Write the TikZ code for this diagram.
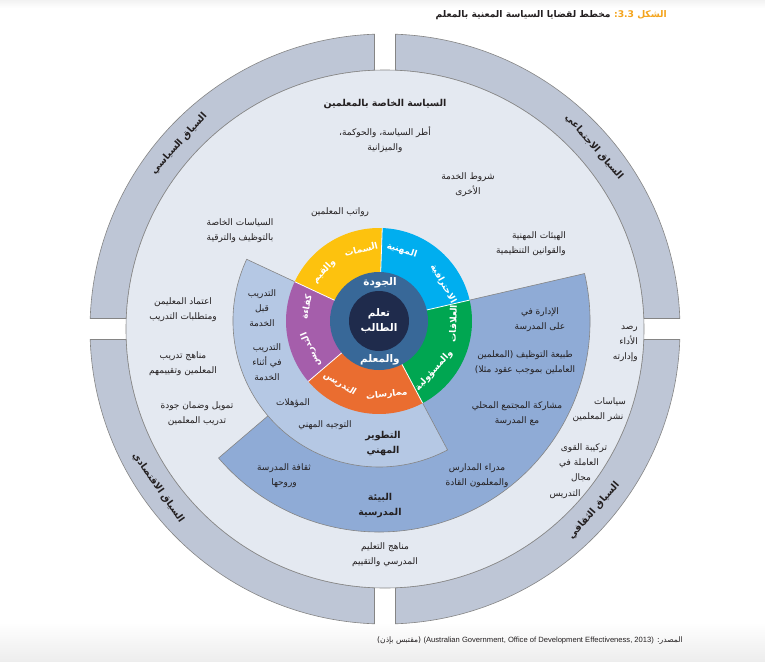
\documentclass[tikz,border=0pt]{standalone}
\usepackage{fontspec}
\setmainfont{DejaVu Sans}
\newfontfamily\ar[Script=Arabic]{DejaVu Sans}
\newfontfamily\lat{Liberation Sans}
\usetikzlibrary{calc}
\TeXXeTstate=1
\newcommand{\AR}[1]{{\ar\beginR #1\endR}}
\definecolor{ringc}{HTML}{BEC6D6}
\definecolor{innerbg}{HTML}{E4E9F1}
\definecolor{dblue}{HTML}{8FABD6}
\definecolor{lblue}{HTML}{B5C8E4}
\definecolor{cyellow}{HTML}{FDC20E}
\definecolor{ccyan}{HTML}{00AEEF}
\definecolor{cgreen}{HTML}{00A651}
\definecolor{corange}{HTML}{EA6D30}
\definecolor{cpurple}{HTML}{A55EAB}
\definecolor{cmid}{HTML}{386898}
\definecolor{cnavy}{HTML}{1F2B4C}
\definecolor{edgec}{HTML}{858585}
\definecolor{titleor}{HTML}{F4A41C}
\definecolor{txtc}{HTML}{231F20}
\tikzset{
  ringpart/.style={fill=ringc,draw=edgec,line width=0.6pt},
  sectorpart/.style={draw=edgec,line width=0.6pt},
  bodytxt/.style={text=txtc,align=center,font=\fontsize{9}{15}\selectfont,inner sep=0pt},
  boldtxt/.style={text=txtc,align=center,font=\fontsize{9.5}{15}\selectfont\bfseries,inner sep=0pt},
  wl/.style={text=white,font=\fontsize{9}{10}\selectfont\bfseries,inner sep=0pt},
  ctx/.style={text=txtc,font=\fontsize{9.5}{10}\selectfont\bfseries,inner sep=0pt},
  ctr/.style={text=white,align=center,font=\fontsize{10.5}{15}\selectfont\bfseries,inner sep=0pt}
}
\begin{document}
\begin{tikzpicture}[x=1pt,y=1pt]
\useasboundingbox (0,0) rectangle (765,-661);
\fill[white] (0,0) rectangle (765,-661);
\shade[top color=gray!10,bottom color=white] (0,0) rectangle (765,-8);
\shade[top color=white,bottom color=gray!14] (0,-622) rectangle (765,-661);
\coordinate (O) at (385,-329);
\coordinate (W) at (379,-321);
% outer context ring
\foreach \q in {0,90,180,270}{
  \draw[ringpart] ($(O)+(\q+87.96:295)$) arc[start angle=\q+87.96,end angle=\q+2.04,radius=295]
    -- ($(O)+(\q+2.32:259)$) arc[start angle=\q+2.32,end angle=\q+87.68,radius=259] -- cycle;
}
\draw[fill=innerbg,draw=edgec,line width=0.6pt] (O) circle[radius=259];
% sectors
\draw[sectorpart,fill=dblue] (W) -- ($(W)+(13:211)$) arc[start angle=13,end angle=-139.5,radius=211] -- cycle;
\draw[sectorpart,fill=lblue] (W) -- ($(W)+(155:146)$) arc[start angle=155,end angle=298,radius=146] -- cycle;
% wheel
\fill[cyellow] (W) -- ($(W)+(88:93)$) arc[start angle=88,end angle=155,radius=93] -- cycle;
\fill[ccyan] (W) -- ($(W)+(13:93)$) arc[start angle=13,end angle=88,radius=93] -- cycle;
\fill[cgreen] (W) -- ($(W)+(-62:93)$) arc[start angle=-62,end angle=13,radius=93] -- cycle;
\fill[corange] (W) -- ($(W)+(-139.5:93)$) arc[start angle=-139.5,end angle=-62,radius=93] -- cycle;
\fill[cpurple] (W) -- ($(W)+(155:93)$) arc[start angle=155,end angle=220.5,radius=93] -- cycle;
\foreach \a in {88,13,-62,-139.5,155}{\draw[white,line width=0.8pt] (W) -- ($(W)+(\a:93)$);}
\fill[cmid] (W) circle[radius=49];
\fill[cnavy] (W) circle[radius=30];
% wheel labels
\node[wl,rotate=14] (w1) at ($(W)+(104:74)$) {\AR{السمات}};
\node[wl,rotate=48] (w2) at ($(W)+(138:74)$) {\AR{والقيم}};
\node[wl,rotate=-18] (w3) at ($(W)+(72:74)$) {\AR{المهنية}};
\node[wl,rotate=-61] (w4) at ($(W)+(30:74)$) {\AR{الاحترافية}};
\node[wl,rotate=88] (w5) at ($(W)+(-2:74)$) {\AR{العلاقات}};
\node[wl,rotate=48] (w6) at ($(W)+(-42:74)$) {\AR{والمسؤولية}};
\node[wl,rotate=6] (w7) at ($(W)+(-84:74)$) {\AR{ممارسات}};
\node[wl,rotate=-32] (w8) at ($(W)+(-122:74)$) {\AR{التدريس}};
\node[wl,rotate=79] (w9) at ($(W)+(169:74)$) {\AR{كفاءة}};
\node[wl,rotate=113] (w10) at ($(W)+(203:74)$) {\AR{التدريس}};
\node[ctr] (c1) at (W) {\AR{تعلم}\\\AR{الطالب}};
\node[ctr] (c2) at (380,-283) {\AR{الجودة}};
\node[ctr] (c3) at (380,-360) {\AR{والمعلم}};
% context labels
\node[ctx,rotate=48] (k1) at ($(O)+(138:277)$) {\AR{السياق السياسي}};
\node[ctx,rotate=-49] (k2) at ($(O)+(41:277)$) {\AR{السياق الاجتماعي}};
\node[ctx,rotate=-55] (k3) at ($(O)+(-145:277)$) {\AR{السياق الاقتصادي}};
\node[ctx,rotate=49] (k4) at ($(O)+(-41:277)$) {\AR{السياق الثقافي}};
% texts in light circle
\node[boldtxt] (t1) at (385,-104) {\AR{السياسة الخاصة بالمعلمين}};
\node[bodytxt] (t2) at (385,-140) {\AR{أطر السياسة، والحوكمة،}\\\AR{والميزانية}};
\node[bodytxt] (t3) at (468,-185) {\AR{شروط الخدمة}\\\AR{الأخرى}};
\node[bodytxt] (t4) at (340,-212) {\AR{رواتب المعلمين}};
\node[bodytxt] (t5) at (240,-231) {\AR{السياسات الخاصة}\\\AR{بالتوظيف والترقية}};
\node[bodytxt,align=right,anchor=east] (t6) at (566,-244) {\AR{الهيئات المهنية}\\\AR{والقوانين التنظيمية}};
\node[bodytxt,align=right,anchor=east] (t7) at (638,-344) {\AR{رصد}\\\AR{الأداء}\\\AR{وإدارته}};
\node[bodytxt] (t8a) at (610,-402) {\AR{سياسات}};
\node[bodytxt] (t8b) at (598,-417) {\AR{نشر المعلمين}};
\node[bodytxt] (t9a) at (584,-448) {\AR{تركيبة القوى}};
\node[bodytxt] (t9b) at (579,-463) {\AR{العاملة في}};
\node[bodytxt] (t9c) at (581,-478) {\AR{مجال}};
\node[bodytxt] (t9d) at (565,-494) {\AR{التدريس}};
\node[bodytxt] (t10) at (183,-310) {\AR{اعتماد المعليمن}\\\AR{ومتطلبات التدريب}};
\node[bodytxt] (t11) at (183,-364) {\AR{مناهج تدريب}\\\AR{المعلمين وتقييمهم}};
\node[bodytxt] (t12) at (197,-414) {\AR{تمويل وضمان جودة}\\\AR{تدريب المعلمين}};
\node[bodytxt] (t13) at (385,-555) {\AR{مناهج التعليم}\\\AR{المدرسي والتقييم}};
% school environment
\node[bodytxt] (s1) at (540,-320) {\AR{الإدارة في}\\\AR{على المدرسة}};
\node[bodytxt] (s2) at (525,-363) {\AR{طبيعة التوظيف (المعلمين}\\\AR{العاملين بموجب عقود مثلا)}};
\node[bodytxt] (s3) at (517,-414) {\AR{مشاركة المجتمع المحلي}\\\AR{مع المدرسة}};
\node[bodytxt] (s4) at (477,-476) {\AR{مدراء المدارس}\\\AR{والمعلمون القادة}};
\node[bodytxt] (s5) at (284,-476) {\AR{ثقافة المدرسة}\\\AR{وروحها}};
\node[boldtxt] (s6) at (380,-506) {\AR{البيئة}\\\AR{المدرسية}};
% professional development
\node[bodytxt] (p1) at (262,-308) {\AR{التدريب}\\\AR{قبل}\\\AR{الخدمة}};
\node[bodytxt] (p2) at (267,-362) {\AR{التدريب}\\\AR{في أثناء}\\\AR{الخدمة}};
\node[bodytxt] (p3) at (293,-403) {\AR{المؤهلات}};
\node[bodytxt] (p4) at (325,-425) {\AR{التوجيه المهني}};
\node[boldtxt] (p5) at (383,-444) {\AR{التطوير}\\\AR{المهني}};
% title and source
\node[anchor=east,inner sep=0pt,text=titleor,font=\fontsize{9.2}{11}\selectfont\bfseries] (titlea) at (667,-15)
  {\AR{الشكل 3.3:}};
\node[anchor=east,inner sep=0pt,text=txtc,font=\fontsize{9.2}{11}\selectfont\bfseries] (titleb) at ([xshift=-3pt]titlea.east -| titlea.west)
  {\AR{مخطط لقضايا السياسة المعنية بالمعلم}};
\node[anchor=east,inner sep=0pt,text=txtc,font=\fontsize{7.6}{9}\selectfont] (src) at (683,-641)
  {\ar\beginR المصدر: \beginL{\lat(Australian Government, Office of Development Effectiveness, 2013)}\endL{} (مقتبس بإذن)\endR};
\end{tikzpicture}
\end{document}
